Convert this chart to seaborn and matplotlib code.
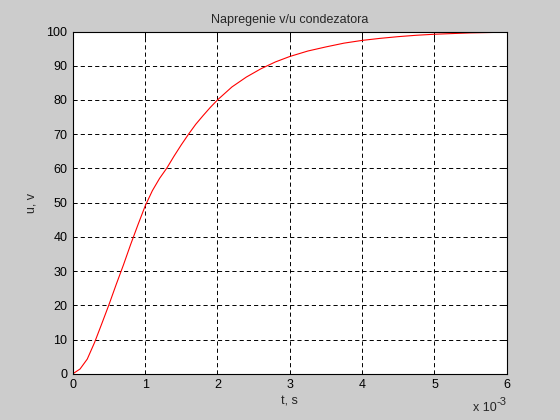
import numpy as np
import pandas as pd
import matplotlib
matplotlib.use("Agg")
import matplotlib.pyplot as plt
import seaborn as sns

# time in milliseconds (axis shows x 10^-3 s) and capacitor voltage
t_ms = [0, 0.1, 0.2, 0.3, 0.4, 0.5, 0.6, 0.7, 0.8, 0.9, 1.0, 1.1, 1.2, 1.3, 1.4,
        1.5, 1.6, 1.7, 1.8, 1.9, 2.0, 2.2, 2.4, 2.6, 2.8, 3.0, 3.25, 3.5, 3.75,
        4.0, 4.25, 4.5, 4.75, 5.0, 5.5, 6.0]
u_v = [0, 1.4, 4.3, 9.1, 14.6, 20.2, 26.1, 31.8, 37.8, 43.5, 49.0, 53.5, 57.1, 60.1, 63.6,
       66.9, 70.0, 72.9, 75.4, 77.8, 80.0, 83.8, 86.7, 89.1, 91.1, 92.7, 94.3, 95.5, 96.6,
       97.4, 98.0, 98.5, 98.9, 99.2, 99.6, 99.8]
x_ticks = [0, 1, 2, 3, 4, 5, 6]
y_ticks = [0, 10, 20, 30, 40, 50, 60, 70, 80, 90, 100]

title = "Napregenie v/u condezatora"
xlabel = "t, s"
ylabel = "u, v"

sns.set_style("white")
plt.rcParams["font.family"] = ["Liberation Sans", "DejaVu Sans"]
plt.rcParams["font.size"] = 9
plt.rcParams["lines.scale_dashes"] = False

df = pd.DataFrame({"t": t_ms, "u": u_v})

fig = plt.figure(figsize=(5.6, 4.2), dpi=100, facecolor="#cccccc")
ax = fig.add_axes([0.13, 0.11, 0.775, 0.815])
ax.set_facecolor("white")

sns.lineplot(data=df, x="t", y="u", ax=ax, color="red", linewidth=0.8)

ax.set_xlim(0, 6)
ax.set_ylim(0, 100)
ax.set_xticks(x_ticks)
ax.set_yticks(y_ticks)
ax.set_xticklabels([str(v) for v in x_ticks])
ax.set_yticklabels([str(v) for v in y_ticks])
ax.grid(True, color="black", linestyle=(0, (3, 2.2)), linewidth=0.7)
ax.set_axisbelow(True)
for s in ax.spines.values():
    s.set_color("black")
    s.set_linewidth(0.8)
ax.tick_params(direction="in", length=4, width=0.7, colors="black",
               top=True, right=True, labelsize=9, pad=4)

ax.set_title(title, fontsize=9, pad=6)
ax.set_xlabel(xlabel, fontsize=9, labelpad=3)
ax.set_ylabel(ylabel, fontsize=9, labelpad=6)
ax.text(0.977, -0.099, "x 10", transform=ax.transAxes, ha="right", va="center",
        fontsize=9)
ax.text(1.0, -0.082, "-3", transform=ax.transAxes, ha="right", va="center",
        fontsize=8)

fig.savefig("out.png", dpi=100, facecolor=fig.get_facecolor())
